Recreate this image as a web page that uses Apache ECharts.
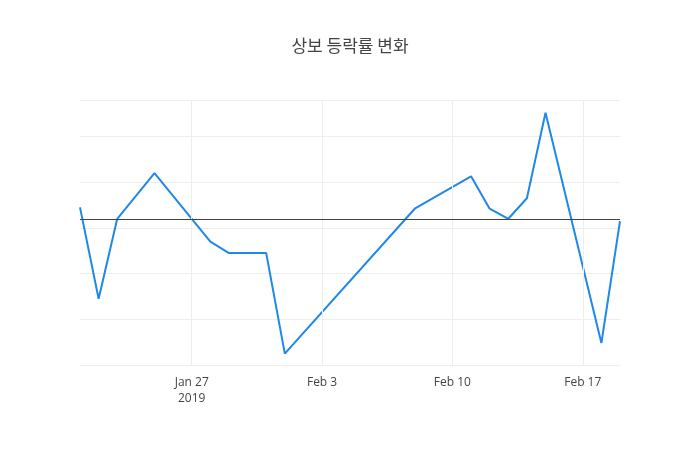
<!DOCTYPE html>
<html>
<head>
<meta charset="utf-8">
<script src="https://cdn.jsdelivr.net/npm/echarts@6/dist/echarts.min.js"></script>
<style>html,body{margin:0;padding:0;background:#fff}</style>
</head>
<body>
<div id="chart" style="width:700px;height:450px"></div>
<script>
// 날짜와 등락률
const dates = ['2019-01-21', '2019-01-22', '2019-01-23', '2019-01-25', '2019-01-28', '2019-01-29',
    '2019-01-31', '2019-02-01', '2019-02-08', '2019-02-11', '2019-02-12', '2019-02-13',
    '2019-02-14', '2019-02-15', '2019-02-18', '2019-02-19'];
const rates = [0.25, -1.75, 0, 1.0, -0.5, -0.75, -0.75, -2.95, 0.23, 0.93, 0.22, 0, 0.45, 2.32, -2.72, -0.05];
const tickDates = ['2019-01-27', '2019-02-03', '2019-02-10', '2019-02-17'];
const tickLabels = ['Jan 27\n2019', 'Feb 3', 'Feb 10', 'Feb 17'];

// 날짜를 Jan 27 기준 일수로 변환
const base = Date.UTC(2019, 0, 27);
const day = d => Math.round((Date.parse(d + 'T00:00:00Z') - base) / 86400000);
const tickValues = tickDates.map(day);

var myChart = echarts.init(document.getElementById('chart'));
var option = {
    title: {
        text: '상보 등락률 변화',
        left: 'center',
        top: 32,
        textStyle: { fontFamily: 'Noto Sans CJK KR', fontSize: 17, fontWeight: 'normal', color: '#444' }
    },
    grid: { left: 80, right: 80, top: 100, bottom: 85 },
    xAxis: {
        type: 'value',
        min: day(dates[0]),
        max: day(dates[dates.length - 1]),
        axisLine: { show: false },
        axisTick: { show: false },
        splitLine: { show: false },
        axisLabel: {
            customValues: tickValues,
            color: '#444',
            fontFamily: 'Open Sans',
            fontSize: 12,
            margin: 10,
            lineHeight: 16,
            formatter: v => tickLabels[tickValues.indexOf(v)] || ''
        }
    },
    yAxis: {
        type: 'value',
        min: -3.2,
        max: 2.6,
        interval: 1,
        axisLabel: {
            color: '#444', fontFamily: 'Open Sans', fontSize: 12,
            formatter: v => Number.isInteger(v) ? String(v).replace('-', '−') : ''
        },
        axisLine: { show: false },
        axisTick: { show: false },
        splitLine: { lineStyle: { color: '#eee' } }
    },
    series: [{
        type: 'line',
        data: dates.map((d, i) => [day(d), rates[i]]),
        showSymbol: false,
        lineStyle: { color: '#1f88e8', width: 2 },
        itemStyle: { color: '#1f88e8' },
        z: 3
    }, {
        type: 'line',
        data: [],
        markLine: {
            silent: true,
            symbol: 'none',
            label: { show: false },
            lineStyle: { color: '#eee', width: 1, type: 'solid' },
            data: tickValues.map(v => ({ xAxis: v }))
        },
        z: 1
    }, {
        type: 'line',
        data: [],
        markLine: {
            silent: true,
            symbol: 'none',
            label: { show: false },
            lineStyle: { color: '#444', width: 1, type: 'solid' },
            data: [{ yAxis: 0 }]
        },
        z: 2
    }]
};
myChart.setOption(option);
</script>
</body>
</html>
